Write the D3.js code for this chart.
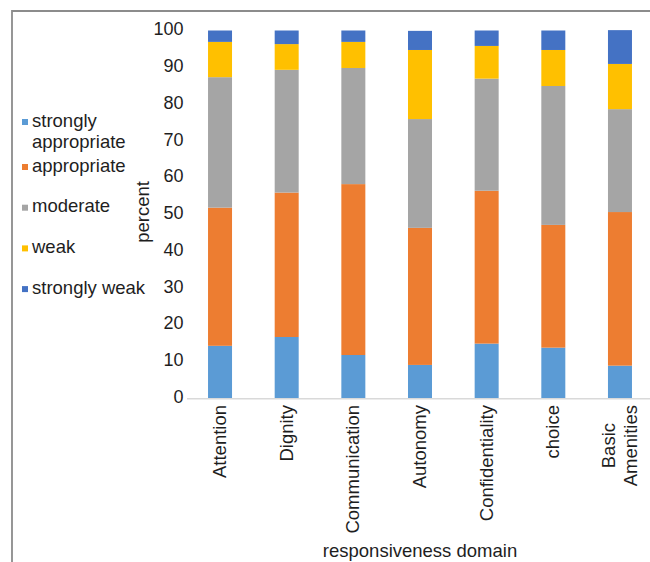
<!DOCTYPE html>
<html><head><meta charset="utf-8">
<script src="https://cdn.jsdelivr.net/npm/d3@7"></script>
<style>body{margin:0;background:#fff}svg{display:block}text{font-family:"Liberation Sans",Arial,sans-serif;fill:#1e1e1e}</style>
</head><body><svg id="c" width="650" height="562"></svg>
<script>
const categories = ["Attention","Dignity","Communication","Autonomy","Confidentiality","choice","Basic Amenities"];
const seriesNames = ["strongly appropriate","appropriate","moderate","weak","strongly weak"];
const stronglyAppropriate = [14.2,16.6,11.7,9.0,14.8,13.7,8.8];
const appropriate = [37.6,39.3,46.5,37.3,41.6,33.4,41.8];
const moderate = [35.5,33.4,31.6,29.6,30.5,37.8,28.0];
const weak = [9.6,7.0,7.1,18.8,8.9,9.8,12.3];
const stronglyWeak = [3.1,3.7,3.1,5.2,4.2,5.3,9.2];
const yTicks = [0,10,20,30,40,50,60,70,80,90,100];
const colors = ["#5b9bd5","#ed7d31","#a5a5a5","#ffc000","#4472c4"];
const yLabel = "percent";
const xLabel = "responsiveness domain";

const seriesValues = [stronglyAppropriate, appropriate, moderate, weak, stronglyWeak];
const rows = categories.map((c,i)=>{const r={cat:c}; seriesNames.forEach((s,j)=>r[s]=seriesValues[j][i]); return r;});
const stack = d3.stack().keys(seriesNames)(rows);

const svg = d3.select("#c");
const FS = 18.5;
// border
svg.append("path").attr("d","M12,562V11H650").attr("fill","none").attr("stroke","#8c8c8c").attr("stroke-width",1.8);

const x = d3.scaleBand().domain(categories).range([186.7,653.3]).paddingInner(0.64).paddingOuter(0.32);
const y = d3.scaleLinear().domain([0,100]).range([398,30.5]);

svg.append("g").selectAll("g").data(stack).join("g").attr("fill",(d,i)=>colors[i])
  .selectAll("rect").data(d=>d).join("rect")
  .attr("x",d=>x(d.data.cat)).attr("width",x.bandwidth())
  .attr("y",d=>y(d[1])).attr("height",d=>y(d[0])-y(d[1]));

// x axis line
svg.append("line").attr("x1",187).attr("x2",650).attr("y1",398.75).attr("y2",398.75).attr("stroke","#d9d9d9").attr("stroke-width",1.5);

// y tick labels
svg.append("g").selectAll("text").data(yTicks).join("text")
  .attr("x",183.5).attr("y",d=>y(d)).attr("dy","0.27em").attr("text-anchor","end")
  .style("font-size","18px").text(d=>d);

// x tick labels
const xl = svg.append("g").selectAll("g").data(categories).join("g")
  .attr("transform",d=>`translate(${x(d)+x.bandwidth()/2+0.5},405) rotate(-90)`);
xl.each(function(d){
  const g = d3.select(this);
  const lines = d.split(" ");
  const t = g.append("text").attr("text-anchor","middle").style("font-size",FS+"px");
  lines.forEach((ln,i)=>{
    t.append("tspan").attr("x",0).attr("y",0)
      .attr("dy",((i-(lines.length-1)/2)*1.22+0.3)+"em").text(ln);
  });
  let L=0; t.selectAll("tspan").each(function(){L=Math.max(L,this.getComputedTextLength());});
  t.selectAll("tspan").attr("x",-L/2);
});

// axis titles
svg.append("text").attr("transform","translate(143,212) rotate(-90)").attr("text-anchor","middle")
  .attr("dy","0.35em").style("font-size",FS+"px").text(yLabel);
svg.append("text").attr("x",420).attr("y",557).attr("text-anchor","middle").style("font-size",FS+"px").text(xLabel);

// legend
const lg = svg.append("g");
seriesNames.forEach((s,i)=>{
  const base = 126.7 + i*40.7 + (i>0?4.3:0);
  lg.append("rect").attr("x",22).attr("y",base-7.7).attr("width",6).attr("height",6).attr("fill",colors[i]);
  const t = lg.append("text").attr("x",32).attr("y",base).style("font-size",FS+"px");
  const words = s.split(" ");
  let line=[], tspan=t.append("tspan").attr("x",32).attr("dy",0);
  words.forEach(w=>{
    line.push(w); tspan.text(line.join(" "));
    if(tspan.node().getComputedTextLength()>118 && line.length>1){
      line.pop(); tspan.text(line.join(" ")); line=[w];
      tspan=t.append("tspan").attr("x",32).attr("dy",21).text(w);
    }
  });
});
</script></body></html>
